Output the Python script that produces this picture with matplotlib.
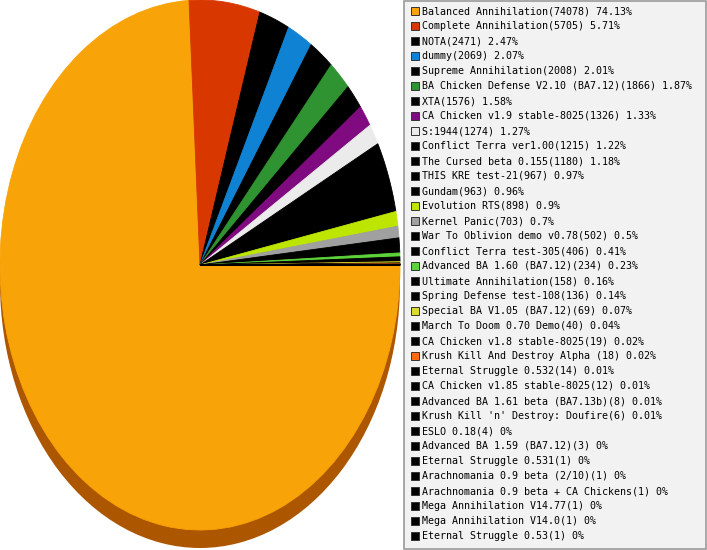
import matplotlib
matplotlib.use('Agg')
import matplotlib.pyplot as plt
from matplotlib.patches import Rectangle, Ellipse

names = ['Balanced Annihilation', 'Complete Annihilation', 'NOTA', 'dummy',
         'Supreme Annihilation', 'BA Chicken Defense V2.10 (BA7.12)', 'XTA',
         'CA Chicken v1.9 stable-8025', 'S:1944', 'Conflict Terra ver1.00',
         'The Cursed beta 0.155', 'THIS KRE test-21', 'Gundam', 'Evolution RTS',
         'Kernel Panic', 'War To Oblivion demo v0.78', 'Conflict Terra test-305',
         'Advanced BA 1.60 (BA7.12)', 'Ultimate Annihilation',
         'Spring Defense test-108', 'Special BA V1.05 (BA7.12)',
         'March To Doom 0.70 Demo', 'CA Chicken v1.8 stable-8025',
         'Krush Kill And Destroy Alpha ', 'Eternal Struggle 0.532',
         'CA Chicken v1.85 stable-8025', 'Advanced BA 1.61 beta (BA7.13b)',
         "Krush Kill 'n' Destroy: Doufire", 'ESLO 0.18', 'Advanced BA 1.59 (BA7.12)',
         'Eternal Struggle 0.531', 'Arachnomania 0.9 beta (2/10)',
         'Arachnomania 0.9 beta + CA Chickens', 'Mega Annihilation V14.77',
         'Mega Annihilation V14.0', 'Eternal Struggle 0.53']
counts = [74078, 5705, 2471, 2069, 2008, 1866, 1576, 1326, 1274, 1215, 1180,
          967, 963, 898, 703, 502, 406, 234, 158, 136, 69, 40, 19, 18, 14, 12,
          8, 6, 4, 3, 1, 1, 1, 1, 1, 1]
percents = ['74.13', '5.71', '2.47', '2.07', '2.01', '1.87', '1.58', '1.33',
            '1.27', '1.22', '1.18', '0.97', '0.96', '0.9', '0.7', '0.5', '0.41',
            '0.23', '0.16', '0.14', '0.07', '0.04', '0.02', '0.02', '0.01',
            '0.01', '0.01', '0.01', '0', '0', '0', '0', '0', '0', '0', '0']

special = {0: '#F8A307', 1: '#D83800', 3: '#1082D4', 5: '#2E9330',
           7: '#800A80', 8: '#EBEBEB', 13: '#BCE600', 14: '#A0A0A0',
           17: '#5DD33A', 20: '#DCDC28', 23: '#FF6A10'}
colors = [special.get(i, '#000000') for i in range(len(names))]

W, H = 707, 550
fig = plt.figure(figsize=(W / 100, H / 100), dpi=100)

# pie axes: ellipse centre (200,265), rx 200, ry 265 in pixels
ry = 265.0
pax = fig.add_axes([0, 0, 400 / W, 1])
pax.add_patch(Ellipse((0, -18 / ry), 2, 2, facecolor='#AD5600',
                      edgecolor='none', zorder=1))
wedges, _ = pax.pie(counts, colors=colors, startangle=0, counterclock=False,
                    radius=1, wedgeprops=dict(zorder=2))
for w in wedges:
    # paint the edge in the slice colour so neighbouring slices leave no seams
    w.set_edgecolor(w.get_facecolor())
    w.set_linewidth(0.6)
pax.set_aspect('auto')
pax.set_xlim(-1, 1)
pax.set_ylim(-(H - ry) / ry, 1)
pax.axis('off')

# legend drawn in pixel coordinates
lax = fig.add_axes([0, 0, 1, 1])
lax.set_xlim(0, W)
lax.set_ylim(H, 0)
lax.axis('off')
lax.add_patch(Rectangle((404, 0.5), 302, 548, facecolor='#F2F2F2',
                        edgecolor='#9A9A9A', linewidth=1.2))
for i, (n, c, p) in enumerate(zip(names, counts, percents)):
    y = 11 + 15 * i
    lax.add_patch(Rectangle((411, y - 4), 8, 8, facecolor=colors[i],
                            edgecolor='#333333', linewidth=0.7))
    lax.text(422, y, f'{n}({c}) {p}%', va='center', ha='left',
             family='DejaVu Sans Mono', fontsize=7.2, color='black')

fig.savefig('out.png', dpi=100)
